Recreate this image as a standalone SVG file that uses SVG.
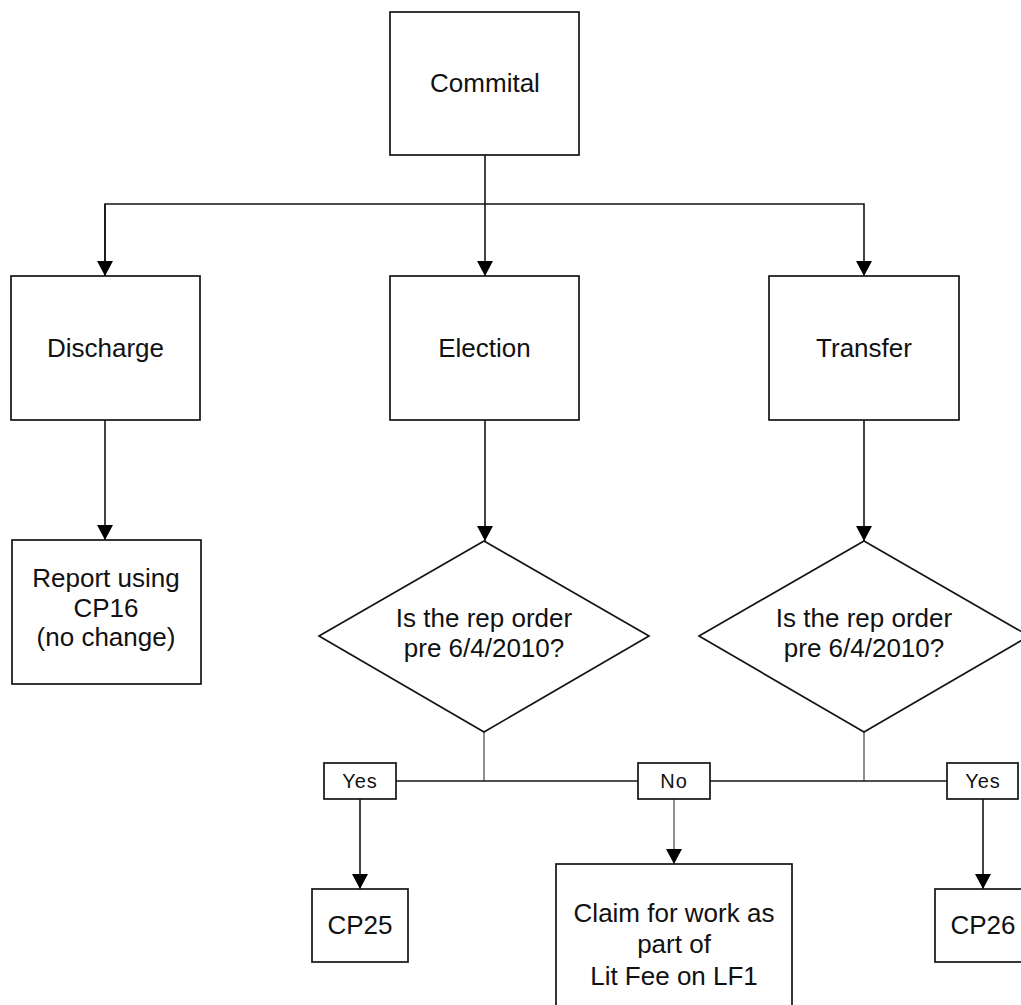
<svg xmlns="http://www.w3.org/2000/svg" width="1021" height="1005" viewBox="0 0 1021 1005">
<style>
.box{fill:#fff;stroke:#141414;stroke-width:1.7}
.t{font-family:"Liberation Sans",Arial,sans-serif;font-size:26px;fill:#111;text-anchor:middle}
.s{font-family:"Liberation Sans",Arial,sans-serif;font-size:20px;fill:#111;text-anchor:middle;letter-spacing:1px}
.c{fill:none;stroke:#141414;stroke-width:1.6}
.thin{fill:none;stroke:#333;stroke-width:1.1}
</style>
<defs>
<marker id="arr" viewBox="0 0 15 16" markerWidth="15" markerHeight="16" refX="15" refY="8" orient="auto" markerUnits="userSpaceOnUse">
<path d="M0,0 L15,8 L0,16 z" fill="#000"/>
</marker>
</defs>
<rect width="1021" height="1005" fill="#fff"/>
<g id="connectors">
<line class="c" x1="485" y1="155" x2="485" y2="276" marker-end="url(#arr)"/>
<polyline class="c" points="105,276 105,204 864,204 864,276" marker-end="url(#arr)"/>
<line class="c" x1="105" y1="204" x2="105" y2="276" marker-end="url(#arr)"/>
<line class="c" x1="105" y1="420" x2="105" y2="540" marker-end="url(#arr)"/>
<line class="c" x1="485" y1="420" x2="485" y2="541" marker-end="url(#arr)"/>
<line class="c" x1="864" y1="420" x2="864" y2="541" marker-end="url(#arr)"/>
<line class="thin" x1="484" y1="732" x2="484" y2="781"/>
<line class="thin" x1="864" y1="732" x2="864" y2="781"/>
<line class="c" x1="396" y1="781" x2="638" y2="781"/>
<line class="c" x1="710" y1="781" x2="947" y2="781"/>
<line class="c" x1="360" y1="799" x2="360" y2="889" marker-end="url(#arr)"/>
<line class="thin" x1="674" y1="799" x2="674" y2="864" marker-end="url(#arr)"/>
<line class="c" x1="983" y1="799" x2="983" y2="889" marker-end="url(#arr)"/>
</g>
<g id="commital"><rect class="box" x="390" y="12" width="189" height="143"/><text class="t" x="485" y="92">Commital</text></g>
<g id="discharge"><rect class="box" x="11" y="276" width="189" height="144"/><text class="t" x="105.5" y="357">Discharge</text></g>
<g id="election"><rect class="box" x="390" y="276" width="189" height="144"/><text class="t" x="484.5" y="357">Election</text></g>
<g id="transfer"><rect class="box" x="769" y="276" width="190" height="144"/><text class="t" x="864" y="357">Transfer</text></g>
<g id="report"><rect class="box" x="12" y="540" width="189" height="144"/><text class="t" x="106" y="587">Report using</text><text class="t" x="106" y="617">CP16</text><text class="t" x="106" y="646">(no change)</text></g>
<g id="decision-election"><polygon class="box" points="484,541 649,636 484,732 319,636"/><text class="t" x="484" y="627">Is the rep order</text><text class="t" x="484" y="657">pre 6/4/2010?</text></g>
<g id="decision-transfer"><polygon class="box" points="864,541 1029,636 864,732 699,636"/><text class="t" x="864" y="627">Is the rep order</text><text class="t" x="864" y="657">pre 6/4/2010?</text></g>
<g id="yes-left"><rect class="box" x="324" y="763" width="72" height="36"/><text class="s" x="360" y="788">Yes</text></g>
<g id="no"><rect class="box" x="638" y="763" width="72" height="36"/><text class="s" x="674" y="788">No</text></g>
<g id="yes-right"><rect class="box" x="947" y="763" width="71" height="36"/><text class="s" x="983" y="788">Yes</text></g>
<g id="cp25"><rect class="box" x="312" y="889" width="96" height="73"/><text class="t" x="360" y="934">CP25</text></g>
<g id="cp26"><rect class="box" x="935" y="889" width="96" height="73"/><text class="t" x="983" y="934">CP26</text></g>
<g id="claim"><rect class="box" x="556" y="864" width="236" height="160"/><text class="t" x="674" y="922">Claim for work as</text><text class="t" x="674" y="953">part of</text><text class="t" x="674" y="985">Lit Fee on LF1</text></g>
</svg>
